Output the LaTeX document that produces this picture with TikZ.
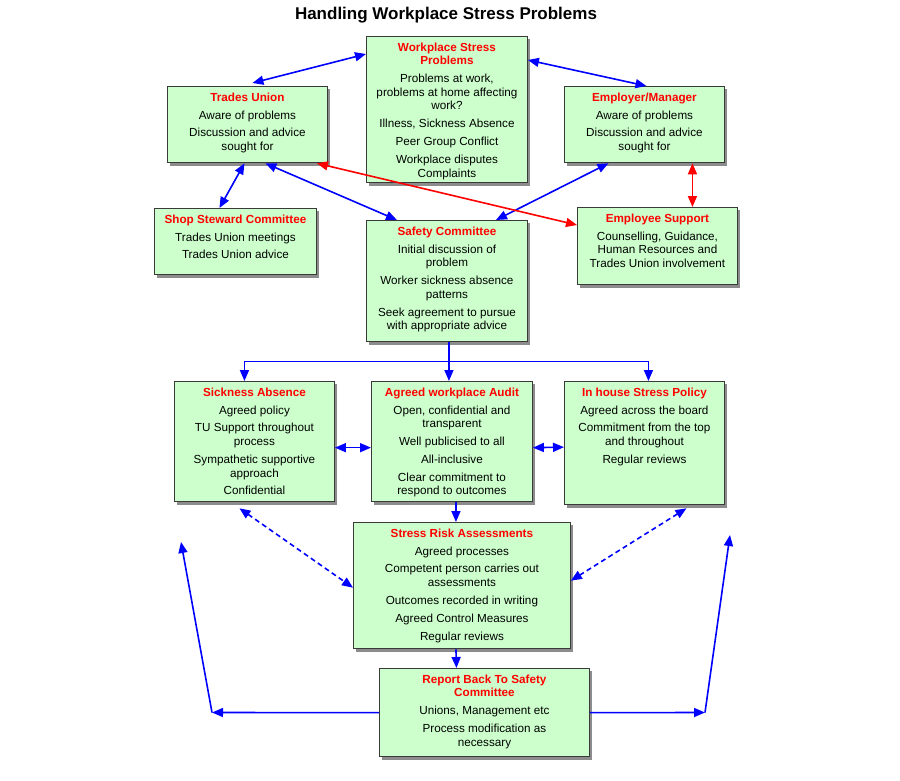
\documentclass[tikz,border=0pt]{standalone}
\usepackage{fontspec}
\setmainfont{Liberation Sans}
\usetikzlibrary{arrows.meta, shadows, calc}
\definecolor{panelGreen}{HTML}{CCFFCC}
\definecolor{titleRed}{HTML}{FF0000}
\definecolor{linkBlue}{HTML}{0000FF}
\definecolor{edgeGray}{HTML}{3A3A3A}
\definecolor{shadowGray}{HTML}{8C8C8C}
\newcommand{\boxbody}[3]{\parbox[c][\dimexpr#2pt-13pt\relax][t]{#1pt}{\centering #3}}
\newcommand{\boxhead}[1]{{\color{titleRed}\bfseries #1}}
\tikzset{
  stressbox/.style={draw=edgeGray, line width=0.9pt, fill=panelGreen, anchor=north west,
    inner xsep=0pt, inner ysep=6.2pt, font=\fontsize{11.7}{13.6}\selectfont,
    general shadow={fill=shadowGray, shadow xshift=3pt, shadow yshift=-3pt}},
  link/.style={{Triangle[length=11pt, width=9pt]}-{Triangle[length=11pt, width=9pt]}, linkBlue, line width=1.6pt},
  alarm/.style={link, red},
  flow/.style={-{Triangle[length=11pt, width=9pt]}, linkBlue, line width=1.6pt},
  trunk/.style={linkBlue, line width=1.6pt},
  maybe/.style={link, dash pattern=on 5pt off 3.5pt},
}

\begin{document}
\begin{tikzpicture}[x=1pt, y=-1pt]
  \useasboundingbox (0,0) rectangle (900,780);
  \node[font=\fontsize{17}{20}\selectfont\bfseries] (heading) at (446,15) {Handling Workplace Stress Problems};

  \node[stressbox] (wsp) at (366,36) {\boxbody{161}{147}{\boxhead{Workplace Stress\\Problems}\\[4.3pt]
    Problems at work,\\problems at home affecting\\work?\\[4.3pt]
    Illness, Sickness Absence\\[4.3pt] Peer Group Conflict\\[4.3pt] Workplace disputes\\Complaints}};
  \node[stressbox] (tu) at (167,86) {\boxbody{160}{77}{\boxhead{Trades Union}\\[4.3pt]
    Aware of problems\\[4.3pt] Discussion and advice\\sought for}};
  \node[stressbox] (em) at (564,86) {\boxbody{160}{77}{\boxhead{Employer/Manager}\\[4.3pt]
    Aware of problems\\[4.3pt] Discussion and advice\\sought for}};
  \node[stressbox] (ssc) at (154,208) {\boxbody{162}{67}{\boxhead{Shop Steward Committee}\\[4.3pt]
    Trades Union meetings\\[4.3pt] Trades Union advice}};
  \node[stressbox] (sc) at (366,220) {\boxbody{161}{122}{\boxhead{Safety Committee}\\[4.3pt]
    Initial discussion of\\problem\\[4.3pt] Worker sickness absence\\patterns\\[4.3pt]
    Seek agreement to pursue\\with appropriate advice}};
  \node[stressbox] (es) at (577,207) {\boxbody{160}{78}{\boxhead{Employee Support}\\[4.3pt]
    Counselling, Guidance,\\Human Resources and\\Trades Union involvement}};

  \node[stressbox] (sa) at (174,381) {\boxbody{160}{121}{\boxhead{Sickness Absence}\\[4.3pt]
    Agreed policy\\[4.3pt] TU Support throughout\\process\\[4.3pt]
    Sympathetic supportive\\approach\\[4.3pt] Confidential}};
  \node[stressbox] (awa) at (371,381) {\boxbody{161}{121}{\boxhead{Agreed workplace Audit}\\[4.3pt]
    Open, confidential and\\transparent\\[4.3pt] Well publicised to all\\[4.3pt]
    All-inclusive\\[4.3pt] Clear commitment to\\respond to outcomes}};
  \node[stressbox] (ihsp) at (564,381) {\boxbody{160}{124}{\boxhead{In house Stress Policy}\\[4.3pt]
    Agreed across the board\\[4.3pt] Commitment from the top\\and throughout\\[4.3pt] Regular reviews}};
  \node[stressbox] (sra) at (353,522) {\boxbody{217}{127}{\boxhead{Stress Risk Assessments}\\[4.3pt]
    Agreed processes\\[4.3pt] Competent person carries out\\assessments\\[4.3pt]
    Outcomes recorded in writing\\[4.3pt] Agreed Control Measures\\[4.3pt] Regular reviews}};
  \node[stressbox] (rb) at (379,668) {\boxbody{210}{89}{\boxhead{Report Back To Safety\\Committee}\\[4.3pt]
    Unions, Management etc\\[4.3pt] Process modification as\\necessary}};

  \coordinate (loopL) at (212,712.5);
  \coordinate (loopLtop) at (181,542);
  \coordinate (loopR) at (705,712.5);
  \coordinate (loopRtop) at (730,535);

  \draw[link] ([xshift=5pt, yshift=3pt]tu.north) -- ([yshift=-18pt]wsp.north west);
  \draw[link] ([yshift=-24pt]wsp.north east) -- ([xshift=2pt]em.north);
  \draw[link] ([xshift=-3pt]tu.south) -- ([xshift=-16pt]ssc.north);
  \draw[link] ([xshift=18pt]tu.south) -- ([xshift=-50pt]sc.north);
  \draw[link] ([xshift=-36pt]em.south) -- ([xshift=49pt]sc.north);
  \draw[alarm] ([xshift=-11pt]tu.south east) -- ([yshift=-18pt]es.north west);
  \draw[alarm] ([xshift=48pt]em.south) -- ([xshift=35pt]es.north);

  \draw[trunk] ([xshift=2pt]sc.south) -- ++(0,19) coordinate (fork);
  \draw[flow] (fork) -| ([xshift=-10pt]sa.north);
  \draw[flow] (fork) -- ([xshift=-3pt]awa.north);
  \draw[flow] (fork) -| ([xshift=4pt]ihsp.north);

  \draw[link] ([yshift=-6pt]sa.east) -- ([yshift=-6pt]awa.west);
  \draw[link] ([yshift=-6pt]awa.east) -- ([yshift=-4pt]ihsp.west);
  \draw[flow] ([xshift=4pt]awa.south) -- ([xshift=-6pt]sra.north);
  \draw[maybe] ([xshift=-15pt, yshift=-6pt]sa.south) -- ([yshift=-2pt]sra.west);
  \draw[maybe] ([xshift=42pt, yshift=-3pt]ihsp.south) -- ([yshift=5pt]sra.east);
  \draw[flow] ([xshift=-6pt]sra.south) -- ([xshift=-28pt]rb.north);

  \draw[flow] (rb.west) -- (loopL);
  \draw[flow] (loopL) -- (loopLtop);
  \draw[flow] (rb.east) -- (loopR);
  \draw[flow] (loopR) -- (loopRtop);
\end{tikzpicture}
\end{document}
